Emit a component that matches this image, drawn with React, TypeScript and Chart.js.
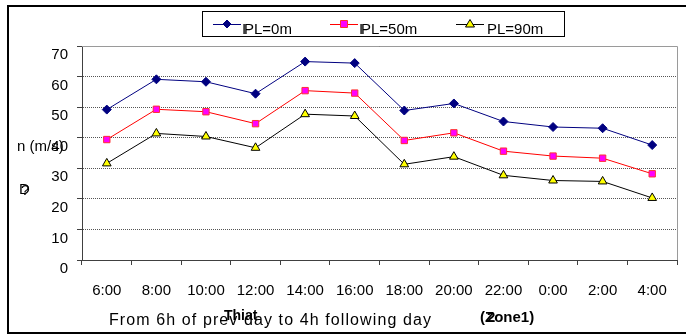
import React, { useEffect, useRef } from "react";
import { Chart, registerables } from "chart.js";

Chart.register(...registerables);

const categories = ["6:00", "8:00", "10:00", "12:00", "14:00", "16:00", "18:00", "20:00", "22:00", "0:00", "2:00", "4:00"];
const seriesL0 = [49.2, 59.1, 58.3, 54.4, 64.9, 64.4, 48.9, 51.2, 45.3, 43.5, 43.1, 37.6];
const seriesL50 = [39.4, 49.3, 48.5, 44.6, 55.4, 54.6, 39.1, 41.6, 35.6, 34.0, 33.3, 28.2];
const seriesL90 = [31.6, 41.4, 40.4, 36.7, 47.7, 47.1, 31.3, 33.8, 27.7, 26.0, 25.7, 20.3];
const seriesLabels = ["PL=0m", "PL=50m", "PL=90m"];
const yTitle = "n (m/s)";
const yTitle2 = "D";
const xTitle = "From 6h of prev day to 4h following day";
const xTitleBold = "Thiat";
const zoneLabel = "(Zone1)";

const FONT = "'Liberation Sans', Arial, sans-serif";

const decorPlugin = {
  id: "decor",
  afterDraw(chart: any) {
    const ctx = chart.ctx as CanvasRenderingContext2D;
    const ca = chart.chartArea;
    ctx.save();
    // outer frame (open on right)
    ctx.strokeStyle = "#000";
    ctx.lineWidth = 2;
    ctx.beginPath();
    ctx.moveTo(686, 6);
    ctx.lineTo(8, 6);
    ctx.lineTo(8, 333);
    ctx.lineTo(686, 333);
    ctx.stroke();

    // plot frame top/right
    ctx.strokeStyle = "#9a9a9a";
    ctx.lineWidth = 1;
    ctx.beginPath();
    ctx.moveTo(ca.left, ca.top + 0.5);
    ctx.lineTo(ca.right + 0.5, ca.top + 0.5);
    ctx.lineTo(ca.right + 0.5, ca.bottom);
    ctx.stroke();

    // legend box
    ctx.strokeStyle = "#000";
    ctx.lineWidth = 1;
    ctx.strokeRect(202.5, 11.5, 362, 25);
    const ds = chart.data.datasets;
    const lx = [213, 330, 456];
    const ly = 24;
    ds.forEach((d: any, i: number) => {
      ctx.strokeStyle = d.borderColor;
      ctx.lineWidth = 1;
      ctx.beginPath();
      ctx.moveTo(lx[i], ly + 0.5);
      ctx.lineTo(lx[i] + 28, ly + 0.5);
      ctx.stroke();
      const mx = lx[i] + 14;
      ctx.fillStyle = d.pointBackgroundColor;
      ctx.strokeStyle = d.pointBorderColor;
      ctx.beginPath();
      if (d.pointStyle === "rectRot") {
        ctx.moveTo(mx, ly - 4);
        ctx.lineTo(mx + 4, ly);
        ctx.lineTo(mx, ly + 4);
        ctx.lineTo(mx - 4, ly);
      } else if (d.pointStyle === "rect") {
        ctx.rect(mx - 3.5, ly - 3.5, 7, 7);
      } else {
        ctx.moveTo(mx, ly - 4.5);
        ctx.lineTo(mx + 4.5, ly + 3);
        ctx.lineTo(mx - 4.5, ly + 3);
      }
      ctx.closePath();
      ctx.fill();
      ctx.stroke();
      ctx.fillStyle = "#000";
      ctx.font = `15px ${FONT}`;
      ctx.textBaseline = "middle";
      ctx.textAlign = "left";
      const tx = lx[i] + 31;
      ctx.fillText(d.label, tx, ly + 6);
      if (i < 2) ctx.fillText("I", tx - 2, ly + 6);
    });

    // y title
    ctx.fillStyle = "#000";
    ctx.font = `15px ${FONT}`;
    ctx.textAlign = "left";
    ctx.textBaseline = "middle";
    ctx.fillText(yTitle, 17, 147);
    ctx.fillText(yTitle2, 19, 190);
    ctx.fillText("?", 21, 191);

    // x title
    ctx.font = `16px ${FONT}`;
    (ctx as any).letterSpacing = "1.1px";
    ctx.fillText(xTitle, 109, 321);
    (ctx as any).letterSpacing = "0px";
    ctx.font = `bold 14px ${FONT}`;
    ctx.fillText(xTitleBold, 224, 316);
    ctx.font = `bold 15px ${FONT}`;
    ctx.fillText(zoneLabel, 480, 318);
    ctx.fillText("2", 487, 318);
    ctx.restore();
  },
};

export default function App() {
  const ref = useRef<HTMLCanvasElement>(null);
  useEffect(() => {
    document.body.style.margin = "0";
    const canvas = ref.current!;
    const chart = new Chart(canvas, {
      type: "line",
      data: {
        labels: categories,
        datasets: [
          {
            label: seriesLabels[0],
            data: seriesL0,
            borderColor: "#000080",
            backgroundColor: "#000080",
            pointBackgroundColor: "#000080",
            pointBorderColor: "#000080",
            pointStyle: "rectRot",
            pointRadius: 4.5,
            borderWidth: 1,
            pointBorderWidth: 1,
          },
          {
            label: seriesLabels[1],
            data: seriesL50,
            borderColor: "#ff0000",
            backgroundColor: "#ff00ff",
            pointBackgroundColor: "#ff00ff",
            pointBorderColor: "#ff3030",
            pointStyle: "rect",
            pointRadius: 4.5,
            borderWidth: 1,
            pointBorderWidth: 1,
          },
          {
            label: seriesLabels[2],
            data: seriesL90,
            borderColor: "#000000",
            backgroundColor: "#ffff00",
            pointBackgroundColor: "#ffff00",
            pointBorderColor: "#000000",
            pointStyle: "triangle",
            pointRadius: 5,
            borderWidth: 1,
            pointBorderWidth: 1,
          },
        ] as any,
      },
      options: {
        responsive: false,
        animation: false,
        layout: { padding: { left: 0, right: 9, top: 46, bottom: 0 } },
        plugins: {
          legend: { display: false },
          tooltip: { enabled: false },
        },
        scales: {
          x: {
            type: "category",
            offset: true,
            grid: {
              offset: true,
              drawOnChartArea: false,
              drawTicks: true,
              tickLength: 5,
              color: "#404040",
            },
            border: { display: true, color: "#404040", width: 1 },
            ticks: {
              color: "#000",
              font: { family: FONT, size: 15 },
              padding: 17,
              maxRotation: 0,
              autoSkip: false,
            },
            afterFit: (s: any) => {
              s.height = 76;
            },
          },
          y: {
            min: 0,
            max: 70,
            grid: {
              color: "#555",
              drawTicks: true,
              tickLength: 5,
              tickColor: "#404040",
            },
            border: { display: true, color: "#404040", width: 1, dash: [1, 1] },
            ticks: {
              stepSize: 10,
              color: "#000",
              font: { family: FONT, size: 15 },
              padding: 9,
              labelOffset: 9,
            },
            afterFit: (s: any) => {
              s.width = 82;
            },
          },
        },
      } as any,
      plugins: [decorPlugin],
    });
    return () => chart.destroy();
  }, []);
  return <canvas ref={ref} width={686} height={336} style={{ display: "block", width: 686, height: 336 }} />;
}
